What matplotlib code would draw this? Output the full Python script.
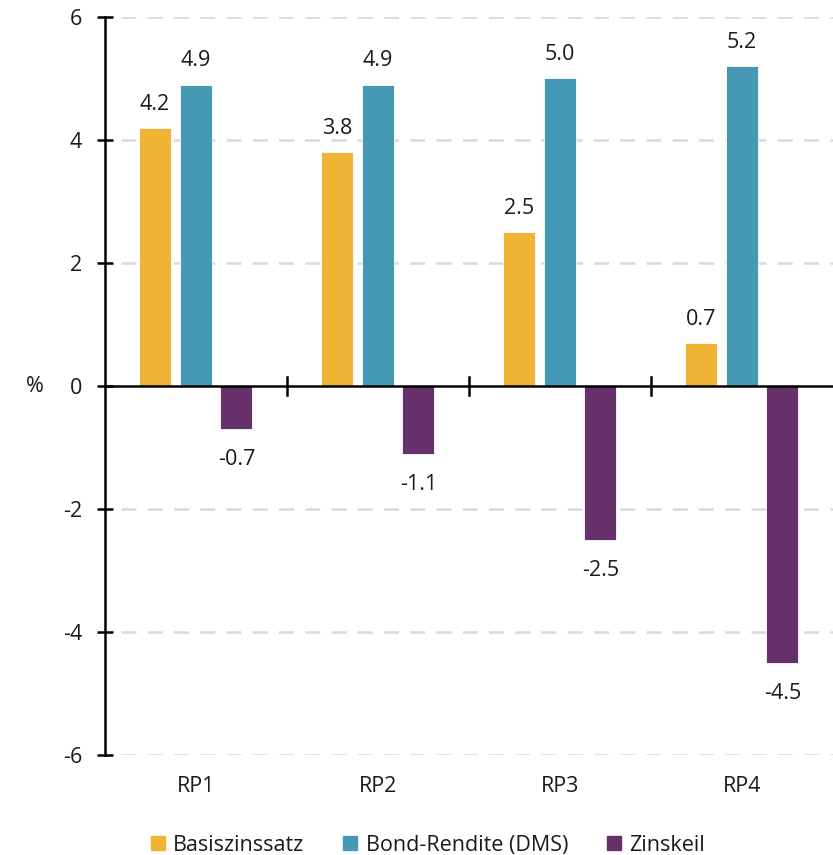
import matplotlib.pyplot as plt
import numpy as np

plt.rcParams['font.family'] = ['Open Sans', 'DejaVu Sans']

categories = ["RP1", "RP2", "RP3", "RP4"]
basiszins = [4.2, 3.8, 2.5, 0.7]
bond_rendite = [4.9, 4.9, 5.0, 5.2]
zinskeil = [-0.7, -1.1, -2.5, -4.5]

series = [
    ("Basiszinssatz", basiszins, "#F0B336"),
    ("Bond-Rendite (DMS)", bond_rendite, "#4599B5"),
    ("Zinskeil", zinskeil, "#66306B"),
]

FS = 15.5
TXT = "#1a1a1a"

fig = plt.figure(figsize=(8.33, 8.55), dpi=100)
ax = fig.add_axes([105 / 833, 1 - 755 / 855, 728 / 833, 738 / 855])

x = np.arange(len(categories)) + 0.5
width = 0.176
offsets = [-0.225, 0.0, 0.222]

for (name, vals, col), off in zip(series, offsets):
    bars = ax.bar(x + off, vals, width, color=col, label=name, zorder=3,
                  edgecolor="white", linewidth=0.6)
    for b, v in zip(bars, vals):
        if v >= 0:
            ax.annotate(f"{v:.1f}", (b.get_x() + b.get_width() / 2, v),
                        xytext=(0, 9.5), textcoords="offset points",
                        ha="center", va="bottom", fontsize=FS, color=TXT)
        else:
            ax.annotate(f"{v:.1f}", (b.get_x() + b.get_width() / 2, v),
                        xytext=(0, -14.5), textcoords="offset points",
                        ha="center", va="top", fontsize=FS, color=TXT)

ax.set_xlim(0, 4)
ax.set_ylim(-6, 6)
ax.set_yticks([-6, -4, -2, 0, 2, 4, 6])
ax.set_yticklabels(["-6", "-4", "-2", "0", "2", "4", "6"])

# dashed gridlines (not at zero)
for yv in [-6, -4, -2, 2, 4, 6]:
    ax.plot([0.09, 4], [yv, yv], color="#d9d9d9", lw=1.8,
            dashes=(6, 4.5), zorder=1)

for s in ["top", "right", "bottom"]:
    ax.spines[s].set_visible(False)
ax.spines["left"].set_linewidth(1.8)
ax.axhline(0, color="black", lw=1.8, zorder=4)

ax.tick_params(axis="y", direction="inout", length=11, width=1.8,
               labelsize=FS, pad=11, colors="black")
ax.tick_params(axis="y", labelcolor=TXT)

# category labels at bottom, tick marks on the zero line between groups
ax.set_xticks([])
for xb in [1, 2, 3]:
    ax.plot([xb, xb], [-0.14, 0.14], color="black", lw=1.8, zorder=4)
for xi, c in zip(x, categories):
    ax.text(xi, -6.52, c, ha="center", va="center", fontsize=FS, color=TXT)

fig.text(35 / 833, 1 - 386 / 855, "%", ha="center", va="center",
         fontsize=FS, color=TXT)

handles = [plt.Rectangle((0, 0), 1, 1, color=c) for _, _, c in series]
fig.legend(handles, [n for n, _, _ in series], loc="center",
           bbox_to_anchor=(428 / 833, 1 - 845 / 855), ncol=3, frameon=False,
           fontsize=FS, handlelength=0.65, handleheight=0.65, handletextpad=0.4,
           columnspacing=1.8, labelcolor=TXT)

fig.savefig("out.png", dpi=100)
